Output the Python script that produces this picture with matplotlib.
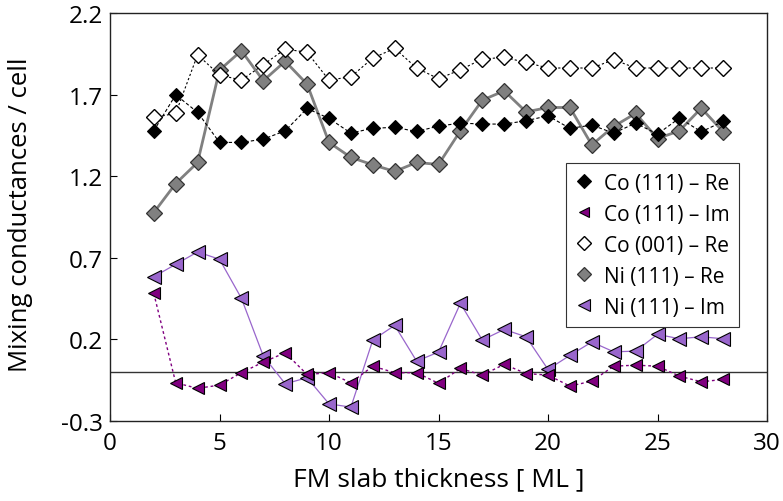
import matplotlib
matplotlib.use("Agg")
import matplotlib.pyplot as plt

plt.rcParams['font.family'] = ['Open Sans', 'DejaVu Sans']
plt.rcParams['axes.unicode_minus'] = False

thickness = list(range(2, 29))

co111_re = [1.478, 1.699, 1.591, 1.407, 1.407, 1.427, 1.478, 1.615, 1.554, 1.464,
            1.494, 1.499, 1.474, 1.507, 1.525, 1.520, 1.519, 1.540, 1.570, 1.493,
            1.513, 1.464, 1.525, 1.458, 1.556, 1.472, 1.536]
co111_im = [0.482, -0.066, -0.100, -0.080, -0.004, 0.061, 0.118, -0.015, -0.004, -0.066,
            0.036, -0.004, -0.004, -0.069, 0.022, -0.019, 0.047, -0.009, -0.019, -0.086,
            -0.056, 0.036, 0.042, 0.036, -0.025, -0.060, -0.045]
co001_re = [1.560, 1.585, 1.944, 1.820, 1.789, 1.883, 1.979, 1.959, 1.789, 1.809,
            1.924, 1.983, 1.863, 1.797, 1.852, 1.918, 1.928, 1.897, 1.863, 1.863,
            1.863, 1.914, 1.863, 1.863, 1.863, 1.863, 1.863]
ni111_re = [0.977, 1.155, 1.284, 1.850, 1.969, 1.785, 1.904, 1.764, 1.407, 1.315,
            1.270, 1.229, 1.284, 1.272, 1.478, 1.666, 1.723, 1.594, 1.621, 1.621,
            1.392, 1.505, 1.585, 1.431, 1.478, 1.617, 1.472]
ni111_im = [0.584, 0.660, 0.736, 0.691, 0.452, 0.098, -0.072, -0.035, -0.195, -0.215,
            0.196, 0.286, 0.067, 0.122, 0.421, 0.196, 0.261, 0.216, 0.016, 0.102,
            0.184, 0.124, 0.128, 0.231, 0.204, 0.216, 0.204]

labels = ["Co (111) \u2013 Re", "Co (111) \u2013 Im", "Co (001) \u2013 Re",
          "Ni (111) \u2013 Re", "Ni (111) \u2013 Im"]
y_ticks = [-0.3, 0.2, 0.7, 1.2, 1.7, 2.2]
x_ticks = [0, 5, 10, 15, 20, 25, 30]

dark_purple = '#800080'
light_purple = '#9966cc'

fig = plt.figure(figsize=(7.83, 5.02), dpi=100)
ax = fig.add_axes([110 / 783, 80 / 502, 657 / 783, 408 / 502])

ax.axhline(0, color='#333333', lw=1.0, zorder=1)

h_niim, = ax.plot(thickness, ni111_im, ls='-', lw=0.9, color=light_purple,
                  marker='<', ms=10, mfc=light_purple, mec='black', mew=0.8,
                  zorder=2)
h_coim, = ax.plot(thickness, co111_im, ls=(0, (2, 2)), lw=1.0, color=dark_purple,
                  marker='<', ms=8, mfc=dark_purple, mec='black', mew=0.8,
                  zorder=3)
h_nire, = ax.plot(thickness, ni111_re, ls='-', lw=2.0, color='#808080',
                  marker='D', ms=8, mfc='#808080', mec='#333333', mew=0.9,
                  zorder=4)
h_co001, = ax.plot(thickness, co001_re, ls=(0, (2, 2)), lw=0.8, color='black',
                   marker='D', ms=8, mfc='white', mec='black', mew=1.0,
                   zorder=5)
h_core, = ax.plot(thickness, co111_re, ls=(0, (3, 2)), lw=0.8, color='black',
                  marker='D', ms=7.5, mfc='black', mec='black', mew=0.8,
                  zorder=6)

ax.set_xlim(0, 30)
ax.set_ylim(-0.3, 2.2)
ax.set_xticks(x_ticks)
ax.set_xticklabels([str(v) for v in x_ticks])
ax.set_yticks(y_ticks)
ax.set_yticklabels([f"{v:.1f}" for v in y_ticks])
ax.tick_params(axis='both', direction='in', length=5, width=0.8, labelsize=17.5,
               top=False, right=False)
ax.tick_params(axis='x', pad=7)
ax.tick_params(axis='y', pad=5)
for s in ax.spines.values():
    s.set_linewidth(1.0)
    s.set_color('#222222')

ax.set_xlabel("FM slab thickness [ ML ]", fontsize=19)
ax.set_ylabel("Mixing conductances / cell", fontsize=18.5)
ax.xaxis.set_label_coords(0.5, -0.112)
ax.yaxis.set_label_coords(-0.117, 0.507)

leg = ax.legend([h_core, h_coim, h_co001, h_nire, h_niim], labels,
                loc='upper left', bbox_to_anchor=(0.694, 0.632),
                numpoints=1, fontsize=15, markerscale=0.9, fancybox=False,
                framealpha=1, edgecolor='#333333', handlelength=0.8,
                handletextpad=0.6, labelspacing=0.48, borderpad=0.45,
                borderaxespad=0.0)
leg.get_frame().set_linewidth(0.8)
for line in leg.get_lines():
    line.set_linestyle('none')

fig.savefig("out.png", dpi=100)
